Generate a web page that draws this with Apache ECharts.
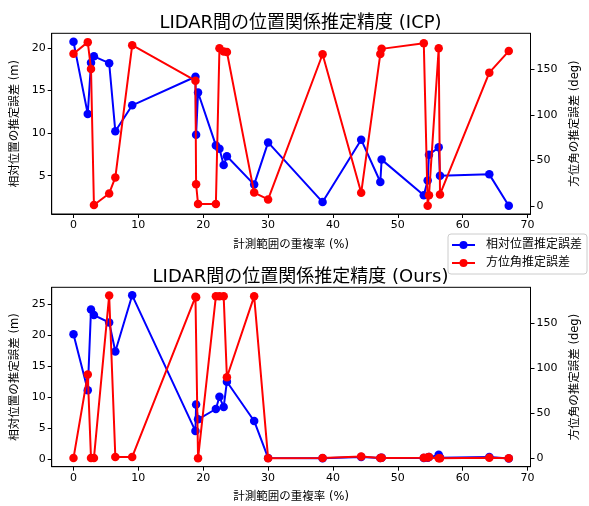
<!DOCTYPE html>
<html>
<head>
<meta charset="utf-8">
<script src="https://cdn.jsdelivr.net/npm/echarts@6/dist/echarts.min.js"></script>
<style>
  html, body { margin: 0; padding: 0; background: #fff; }
  #chart { width: 589px; height: 506px; }
</style>
</head>
<body>
<div id="chart"></div>
<script>
// Overlap ratio of the two LIDAR scans (%)
const overlap = [0, 2.2, 2.7, 3.15, 5.5, 6.45, 9.05, 18.8, 18.9, 19.2, 21.95, 22.5, 23.15, 23.65,
  27.85, 30.0, 38.4, 44.35, 47.3, 47.5, 54.0, 54.6, 54.8, 56.3, 56.5, 64.1, 67.1];

// ICP: relative position error (m) and heading error (deg)
const icpPosError = [20.7, 12.24, 18.24, 19.0, 18.2, 10.2, 13.25, 16.6, 9.8, 14.75, 8.55, 8.15, 6.25, 7.27,
  3.95, 8.9, 1.9, 9.22, 4.25, 6.88, 2.7, 4.44, 7.46, 8.32, 5.0, 5.15, 1.47];
const icpYawError = [167, 179.8, 150.4, 0.8, 13.6, 31.2, 176.5, 137.5, 23.7, 2, 2, 173, 169.4, 169,
  14.5, 7, 166.5, 14.3, 166.8, 172.4, 178.6, 0, 11.5, 173, 12.5, 146.3, 170];

// Proposed method: relative position error (m) and heading error (deg)
const oursPosError = [20.2, 11.1, 24.2, 23.3, 22.1, 17.4, 26.5, 4.5, 8.8, 6.4, 8.08, 10.06, 8.4, 12.5,
  6.14, 0.15, 0.1, 0.3, 0.15, 0.2, 0.15, 0.2, 0.3, 0.65, 0.2, 0.3, 0.05];
const oursYawError = [0.5, 93, 0.5, 0.5, 180.5, 1.8, 1.8, 179, 178.5, 0.3, 179.5, 179.5, 179.5, 90,
  179.5, 0.3, 0.5, 2.2, 0.5, 0.8, 0.8, 1.2, 1.8, 0.3, 0.3, 0.8, 0.3];

const titles = ['LIDAR間の位置関係推定精度 (ICP)', 'LIDAR間の位置関係推定精度 (Ours)'];
const xName = '計測範囲の重複率 (%)';
const posName = '相対位置の推定誤差 (m)';
const yawName = '方位角の推定誤差 (deg)';
const posSeriesName = '相対位置推定誤差';
const yawSeriesName = '方位角推定誤差';

const FONT = '"DejaVu Sans", "Noto Sans CJK JP", sans-serif';

function pairs(xs, ys) { return xs.map((x, i) => [x, ys[i]]); }

const tickStyle = { show: true, inside: false, length: 4, lineStyle: { color: '#000', width: 1 } };
const lineStyleAxis = { show: true, onZero: false, lineStyle: { color: '#000', width: 1 } };

function xAxis(gridIndex) {
  return {
    type: 'value', gridIndex, min: -3.36, max: 70.45, minInterval: 10, maxInterval: 10,
    name: xName, nameLocation: 'middle', nameGap: 25,
    nameTextStyle: { fontFamily: FONT, fontSize: 11.5, color: '#000' },
    axisLine: lineStyleAxis, axisTick: tickStyle, splitLine: { show: false },
    axisLabel: { showMinLabel: false, showMaxLabel: false, margin: 6, fontFamily: FONT, fontSize: 11, color: '#000' }
  };
}

function yAxis(gridIndex, position, min, max, step, name, gap) {
  return {
    type: 'value', gridIndex, position, min, max, minInterval: step, maxInterval: step,
    name, nameLocation: 'middle', nameGap: gap, nameRotate: 90,
    nameTextStyle: { fontFamily: FONT, fontSize: 11.5, color: '#000' },
    axisLine: lineStyleAxis, axisTick: tickStyle, splitLine: { show: false },
    axisLabel: { showMinLabel: false, showMaxLabel: false, margin: 6, fontFamily: FONT, fontSize: 11, color: '#000' }
  };
}

function series(name, xIdx, yIdx, data, color, z) {
  return {
    type: 'line', name, xAxisIndex: xIdx, yAxisIndex: yIdx, data,
    symbol: 'circle', symbolSize: 8.5, showSymbol: true, z,
    lineStyle: { color, width: 2 }, itemStyle: { color },
    emphasis: { disabled: true }
  };
}

const chart = echarts.init(document.getElementById('chart'), null, { renderer: 'canvas' });
chart.setOption({
  animation: false,
  backgroundColor: '#fff',
  title: [
    { text: titles[0], left: 295.5, textAlign: 'center', top: 9,
      textStyle: { fontFamily: FONT, fontSize: 18, fontWeight: 'normal', color: '#000' } },
    { text: titles[1], left: 295.5, textAlign: 'center', top: 263,
      textStyle: { fontFamily: FONT, fontSize: 18, fontWeight: 'normal', color: '#000' } }
  ],
  legend: {
    orient: 'vertical', left: 448, top: 234,
    padding: [5, 5, 5, 3], itemGap: 6, itemWidth: 23, itemHeight: 10,
    backgroundColor: 'rgba(255,255,255,0.8)', borderColor: '#cccccc', borderWidth: 1, borderRadius: 3,
    textStyle: { fontFamily: FONT, fontSize: 12, color: '#000', padding: [0, 0, 0, 6] },
    data: [posSeriesName, yawSeriesName],
    z: 20
  },
  grid: [
    { left: 51.7, right: 49.7, top: 33.3, height: 180.7, show: true, borderColor: '#000', borderWidth: 1, backgroundColor: 'transparent' },
    { left: 51.7, right: 49.7, top: 287.3, height: 179.4, show: true, borderColor: '#000', borderWidth: 1, backgroundColor: 'transparent' }
  ],
  xAxis: [xAxis(0), xAxis(1)],
  yAxis: [
    yAxis(0, 'left', 0.5, 21.7, 5, posName, 27),
    yAxis(0, 'right', -9, 189.5, 50, yawName, 39),
    yAxis(1, 'left', -1.27, 27.8, 5, posName, 27),
    yAxis(1, 'right', -9, 189.5, 50, yawName, 39)
  ],
  series: [
    series(posSeriesName, 0, 0, pairs(overlap, icpPosError), '#0000ff', 2),
    series(yawSeriesName, 0, 1, pairs(overlap, icpYawError), '#ff0000', 3),
    series(posSeriesName, 1, 2, pairs(overlap, oursPosError), '#0000ff', 2),
    series(yawSeriesName, 1, 3, pairs(overlap, oursYawError), '#ff0000', 3)
  ]
});
</script>
</body>
</html>
